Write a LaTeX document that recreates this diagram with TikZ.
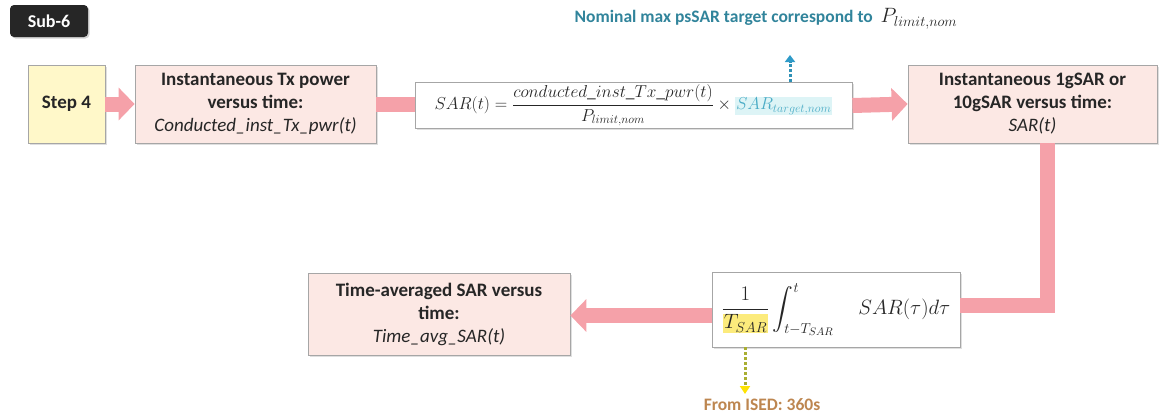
\documentclass[tikz,border=0pt]{standalone}
\usepackage{amsmath}
\usepackage{fontspec}
\setmainfont{Carlito}
\usetikzlibrary{arrows.meta,shadows,calc}
\definecolor{boxpink}{HTML}{FCE8E4}
\definecolor{boxyellow}{HTML}{FFF8C9}
\definecolor{boxline}{HTML}{A6A6A6}
\definecolor{arrpink}{HTML}{F5A1A9}
\definecolor{teal}{HTML}{31849B}
\definecolor{tealtip}{HTML}{2E9AC8}
\definecolor{cyanhl}{HTML}{DDF4F6}
\definecolor{cyantxt}{HTML}{4BACC6}
\definecolor{yellowhl}{HTML}{FCEB7C}
\definecolor{tan}{HTML}{BD8650}
\definecolor{olive}{HTML}{A9AE32}
\definecolor{badge}{HTML}{262626}
\definecolor{textgray}{HTML}{262626}
\tikzset{
  flowbox/.style={draw=boxline, line width=0.8pt, fill=boxpink, minimum width=#1, minimum height=78pt,
    align=center, inner sep=2pt, font=\fontsize{19}{23}\selectfont, text=textgray,
    drop shadow={shadow xshift=1.5pt, shadow yshift=-1.5pt, opacity=0.25}},
  mathbox/.style={draw=boxline, line width=0.8pt, fill=white, inner sep=2pt, text=textgray,
    drop shadow={shadow xshift=1.5pt, shadow yshift=-1.5pt, opacity=0.25}},
  bigarrow/.style={line width=15pt, draw=arrpink, -{Triangle[length=16pt,width=32pt]}},
  band/.style={line width=15pt, draw=arrpink},
  note/.style={font=\fontsize{17.5}{20}\selectfont\bfseries, inner sep=1pt},
}
\setlength{\fboxsep}{1pt}
\begin{document}
\begin{tikzpicture}[x=1pt,y=-1pt]
\useasboundingbox (0,0) rectangle (1164,415);
% badge
\node[fill=badge, rounded corners=4pt, minimum width=78pt, minimum height=32pt, text=white,
  font=\fontsize{18}{20}\selectfont\bfseries,
  drop shadow={shadow xshift=1.5pt, shadow yshift=-1.5pt, opacity=0.35}] (badge) at (49,21) {Sub-6};
% boxes
\node[flowbox=77pt, fill=boxyellow] (step) at (66.5,104) {\textbf{Step 4}};
\node[flowbox=241pt] (inst) at (255.5,104) {\textbf{Instantaneous Tx power}\\\textbf{versus time:}\\\textit{Conducted\_inst\_Tx\_pwr(t)}};
\node[flowbox=249pt] (sar) at (1032.5,104) {\textbf{Instantaneous 1gSAR or}\\\textbf{10gSAR versus time:}\\\textit{SAR(t)}};
\node[flowbox=262pt, minimum height=82pt] (avg) at (439,314) {\textbf{Time-averaged SAR versus}\\\textbf{time:}\\\textit{Time\_avg\_SAR(t)}};
% connectors behind math boxes
\draw[bigarrow] (step.east) -- (inst.west);
\coordinate (fl) at (415,104);
\draw[band] (inst.east) -- (fl);
\node[mathbox, minimum width=437pt, minimum height=45pt] (formula) at (633.5,105.5)
  {\fontsize{17.5}{20}\selectfont$SAR(t)=\dfrac{conducted\_inst\_Tx\_pwr(t)}{P_{limit,nom}}\times\colorbox{cyanhl}{$\color{cyantxt}SAR_{target,nom}$}$};
\draw[bigarrow] (formula.east) -- (sar.west);
\node[mathbox, minimum width=248pt, minimum height=75pt] (integ) at (836,309.5)
  {\fontsize{21}{24}\selectfont$\dfrac{1}{\colorbox{yellowhl}{$T_{SAR}$}}\displaystyle\int_{t-T_{SAR}}^{t}\quad SAR(\tau)d\tau$};
\coordinate (top) at ([xshift=14.5pt]sar.south);
\coordinate (corner) at (top |- 0,305);
\draw[band] (top) -- ([yshift=-7.5pt]corner) ;
\draw[band] ([xshift=7.5pt]corner) -- (corner -| integ.east);
\coordinate (ai) at ($(integ.west)+(0,6)$);
\draw[bigarrow] (ai) -- (ai -| avg.east);
% notes
\node[note, text=teal, anchor=base] (nom) at (766,23) {Nominal max psSAR target correspond to \ {\mdseries\fontsize{20}{22}\selectfont\color{textgray}$P_{limit,nom}$}};
\coordinate (fup) at (790,55);
\draw[tealtip!60!teal, line width=3pt, dotted, -{Triangle[length=7pt,width=10pt,color=tealtip]}] (formula.north -| fup) -- (fup);
\node[note, text=tan, anchor=base] (ised) at (762,410) {From ISED: 360s};
\coordinate (fdn) at (745,394);
\draw[olive, line width=3pt, dotted, -{Triangle[length=8pt,width=10pt,color=yellow!85!orange]}] (integ.south -| fdn) -- (fdn);
\end{tikzpicture}
\end{document}
